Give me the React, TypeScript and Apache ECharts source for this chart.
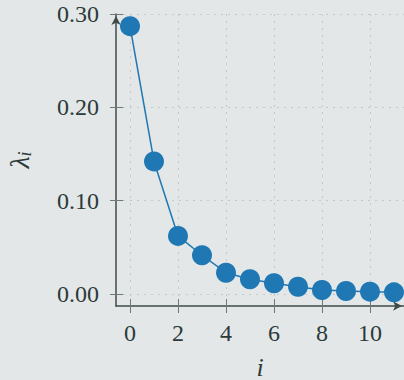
import React, { useEffect, useRef } from "react";
import * as echarts from "echarts";

const indices = [0, 1, 2, 3, 4, 5, 6, 7, 8, 9, 10, 11];
const eigenvalues = [0.287, 0.142, 0.0622, 0.0415, 0.0228, 0.0158, 0.0115, 0.0078, 0.0043, 0.0032, 0.0025, 0.0018];
const xTicks = [0, 2, 4, 6, 8, 10];
const yTicks = [0, 0.1, 0.2, 0.3];
const xRange = [-0.5833, 11.4167];
const yRange = [-0.01286, 0.3];

const TEXT = "#2c3a3a";
const AXIS = "#3f4b4b";
const TICK = "#6f7878";
const GRID = "#c3c8c9";
const BLUE = "#1f77b4";
const FONT = "Liberation Serif";

export default function App() {
  const ref = useRef<HTMLDivElement>(null);
  useEffect(() => {
    if (!ref.current) return;
    const chart = echarts.init(ref.current, null, { renderer: "svg" });
    chart.setOption({
      animation: false,
      backgroundColor: "#e3e7e8",
      textStyle: { fontFamily: FONT },
      grid: { left: 116, top: 14, width: 288, height: 292, containLabel: false, outerBoundsMode: "none" },
      xAxis: [
        {
          type: "value",
          min: xRange[0],
          max: xRange[1],
          position: "bottom",
          name: "i",
          nameLocation: "middle",
          nameGap: 48,
          nameTextStyle: { fontFamily: FONT, fontStyle: "italic", fontSize: 26, color: TEXT },
          axisLine: {
            show: true,
            onZero: false,
            symbol: ["none", "arrow"],
            symbolSize: [7, 9],
            symbolOffset: [0, -2],
            lineStyle: { color: AXIS, width: 1.5 },
          },
          axisTick: { show: true, customValues: xTicks, length: 7, inside: false, lineStyle: { color: TICK, width: 1 } },
          axisLabel: {
            customValues: xTicks,
            margin: 15,
            fontFamily: FONT,
            fontSize: 24,
            color: TEXT,
            formatter: (v: number) => String(Math.round(v)),
          },
          splitLine: { show: true, lineStyle: { color: GRID, type: [2, 5], width: 1 } },
        },
        {
          type: "value",
          min: xRange[0],
          max: xRange[1],
          position: "bottom",
          offset: 0,
          axisLine: { show: false, onZero: false },
          axisTick: { show: true, customValues: xTicks, length: 7, inside: true, lineStyle: { color: TICK, width: 1 } },
          axisLabel: { show: false },
          splitLine: { show: false },
        },
      ],
      yAxis: [
        {
          type: "value",
          min: yRange[0],
          max: yRange[1],
          position: "left",
          name: "{l|λ}{s|i}",
          nameLocation: "middle",
          nameGap: 82,
          nameRotate: 90,
          nameTextStyle: {
            rich: {
              l: { fontFamily: FONT, fontStyle: "italic", fontSize: 28, color: TEXT },
              s: { fontFamily: FONT, fontStyle: "italic", fontSize: 18, color: TEXT, padding: [12, 0, 0, 0] },
            },
          },
          axisLine: {
            show: true,
            onZero: false,
            symbol: ["none", "arrow"],
            symbolSize: [7, 9],
            symbolOffset: [0, -2],
            lineStyle: { color: AXIS, width: 1.5 },
          },
          axisTick: { show: true, customValues: yTicks, length: 6, inside: false, lineStyle: { color: TICK, width: 1 } },
          axisLabel: {
            customValues: yTicks,
            margin: 17,
            fontFamily: FONT,
            fontSize: 24,
            color: TEXT,
            formatter: (v: number) => v.toFixed(2),
          },
          splitLine: { show: true, lineStyle: { color: GRID, type: [2, 5], width: 1 } },
        },
        {
          type: "value",
          min: yRange[0],
          max: yRange[1],
          position: "left",
          offset: 0,
          axisLine: { show: false, onZero: false },
          axisTick: { show: true, customValues: yTicks, length: 7, inside: true, lineStyle: { color: TICK, width: 1 } },
          axisLabel: { show: false },
          splitLine: { show: false },
        },
      ],
      series: [
        {
          type: "line",
          xAxisIndex: 0,
          yAxisIndex: 0,
          data: indices.map((x, k) => [x, eigenvalues[k]]),
          symbol: "circle",
          symbolSize: 20,
          showAllSymbol: true,
          clip: false,
          itemStyle: { color: BLUE },
          lineStyle: { color: BLUE, width: 1.5 },
        },
      ],
    });
    return () => chart.dispose();
  }, []);
  return (
    <div
      ref={ref}
      style={{ position: "fixed", left: 0, top: 0, width: 404, height: 380, background: "#e3e7e8" }}
    />
  );
}
